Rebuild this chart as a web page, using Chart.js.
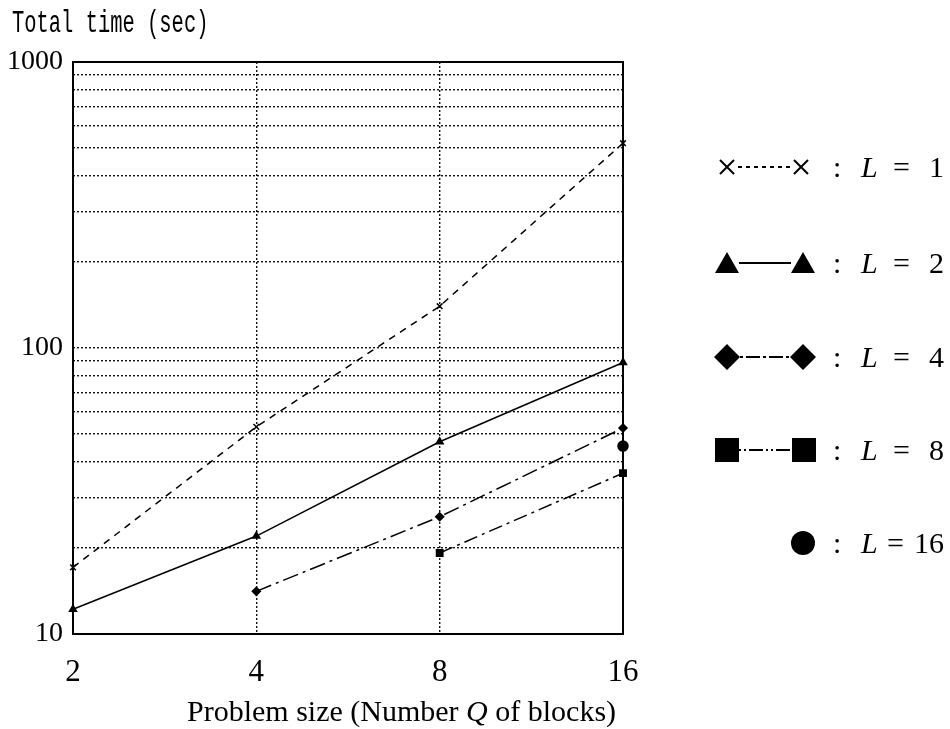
<!DOCTYPE html>
<html>
<head>
<meta charset="utf-8">
<script src="https://cdn.jsdelivr.net/npm/chart.js@4.4.1/dist/chart.umd.min.js"></script>
<style>
  html, body { margin: 0; padding: 0; background: #fff; }
  #wrap { position: relative; width: 950px; height: 729px; font-family: "Liberation Serif", serif; color: #000; overflow: hidden; }
  #chart { position: absolute; left: 0; top: 0; }
  .ytitle { position: absolute; left: 12px; top: 6px; font-family: "Liberation Mono", monospace; font-size: 31px; white-space: pre; transform: scaleX(0.66); transform-origin: left top; }
  .xtitle { position: absolute; left: 187px; top: 694px; font-size: 30px; white-space: pre; }
  .row { position: absolute; left: 0; width: 950px; height: 40px; }
  .row svg { position: absolute; left: 710px; top: 5px; }
  .row span { position: absolute; top: 2px; font-size: 30px; line-height: 36px; }
  .colon { left: 833px; }
  .ell { left: 861px; font-style: italic; }
  .eq { left: 893px; }
  .num { right: 6px; }
</style>
</head>
<body>
<div id="wrap">
  <canvas id="chart" width="950" height="729"></canvas>
  <div class="ytitle">Total time (sec)</div>
  <div class="xtitle">Problem size (Number <i>Q</i> of blocks)</div>

  <div class="row" style="top:147px">
    <svg width="110" height="30"><path d="M10 8 L24 22 M24 8 L10 22 M84 8 L98 22 M98 8 L84 22" stroke="#000" stroke-width="2"/><line x1="28" y1="15" x2="80" y2="15" stroke="#000" stroke-width="2" stroke-dasharray="4 4"/></svg>
    <span class="colon">:</span><span class="ell">L</span><span class="eq">=</span><span class="num">1</span>
  </div>
  <div class="row" style="top:243px">
    <svg width="110" height="30"><path d="M17 4 L29 25 L5 25 Z M93 4 L105 25 L81 25 Z" fill="#000"/><line x1="29" y1="15" x2="81" y2="15" stroke="#000" stroke-width="2"/></svg>
    <span class="colon">:</span><span class="ell">L</span><span class="eq">=</span><span class="num">2</span>
  </div>
  <div class="row" style="top:337px">
    <svg width="110" height="30"><path d="M17 2 L30 15 L17 28 L4 15 Z M93 2 L106 15 L93 28 L80 15 Z" fill="#000"/><line x1="30" y1="15" x2="80" y2="15" stroke="#000" stroke-width="2" stroke-dasharray="3 3 14 3"/></svg>
    <span class="colon">:</span><span class="ell">L</span><span class="eq">=</span><span class="num">4</span>
  </div>
  <div class="row" style="top:430px">
    <svg width="110" height="30"><path d="M5 3 H29 V27 H5 Z M82 3 H106 V27 H82 Z" fill="#000"/><line x1="29" y1="15" x2="82" y2="15" stroke="#000" stroke-width="2" stroke-dasharray="2 3 2 3 14 3"/></svg>
    <span class="colon">:</span><span class="ell">L</span><span class="eq">=</span><span class="num">8</span>
  </div>
  <div class="row" style="top:523px">
    <svg width="110" height="30"><circle cx="93" cy="15" r="12" fill="#000"/></svg>
    <span class="colon">:</span><span class="ell">L</span><span class="eq" style="left:887px">=</span><span class="num">16</span>
  </div>
</div>
<script>
const FONT = '"Liberation Serif", serif';

// problem sizes Q (x axis) and total times in seconds for each L
const qSizes = ['2', '4', '8', '16'];
const timeL1 = [17.1, 53, 140, 520];
const timeL2 = [12.2, 22, 47, 89];
const timeL4 = [null, 14.1, 25.7, 52.5];
const timeL8 = [null, null, 19.2, 36.5];
const timeL16 = [null, null, null, 45.4];

const yGridValues = [10, 20, 30, 40, 50, 60, 70, 80, 90, 100, 200, 300, 400, 500, 600, 700, 800, 900, 1000];
const yLabeled = [10, 100, 1000];

const framePlugin = {
  id: 'frame',
  beforeDatasetsDraw(chart) {
    const { ctx, chartArea: a } = chart;
    ctx.save();
    ctx.setLineDash([]);
    ctx.lineWidth = 2;
    ctx.strokeStyle = '#000';
    ctx.strokeRect(a.left, a.top, a.right - a.left, a.bottom - a.top);
    ctx.restore();
  }
};

function series(data, dash, style, radius) {
  return {
    data: data,
    borderColor: '#000',
    backgroundColor: '#000',
    borderWidth: 1.5,
    borderDash: dash,
    pointStyle: style,
    pointRadius: radius,
    pointBorderWidth: 1.5,
    pointBorderColor: '#000',
    pointBackgroundColor: '#000',
    fill: false,
    tension: 0,
    clip: false
  };
}

new Chart(document.getElementById('chart'), {
  type: 'line',
  data: {
    labels: qSizes,
    datasets: [
      series(timeL1, [7, 6], 'crossRot', 4),
      series(timeL2, [], 'triangle', 4),
      series(timeL4, [16, 5, 3, 5], 'rectRot', 4),
      series(timeL8, [14, 5, 3, 5], 'rect', 4.5),
      series(timeL16, [], 'circle', 5)
    ]
  },
  options: {
    responsive: false,
    animation: false,
    layout: { padding: { left: 0, top: 62, right: 327, bottom: 0 } },
    plugins: { legend: { display: false }, tooltip: { enabled: false } },
    scales: {
      x: {
        type: 'category',
        offset: false,
        grid: {
          color: c => (c.index === 1 || c.index === 2) ? '#111' : 'rgba(0,0,0,0)',
          lineWidth: 1.4,
          drawTicks: false
        },
        border: { display: false, dash: [2, 2] },
        ticks: { font: { family: FONT, size: 31 }, color: '#000', padding: 20, maxRotation: 0 },
        afterFit: s => { s.height = 95; }
      },
      y: {
        type: 'logarithmic',
        min: 10,
        max: 1000,
        afterBuildTicks: s => { s.ticks = yGridValues.map(v => ({ value: v })); },
        grid: {
          color: c => (c.tick && (c.tick.value === 10 || c.tick.value === 1000)) ? 'rgba(0,0,0,0)' : '#111',
          lineWidth: 1.4,
          drawTicks: false
        },
        border: { display: false, dash: [2, 2] },
        ticks: {
          autoSkip: false,
          font: { family: FONT, size: 28 },
          color: '#000',
          padding: 10,
          callback: v => yLabeled.includes(v) ? String(v) : ''
        },
        afterFit: s => { s.width = 73; }
      }
    }
  },
  plugins: [framePlugin]
});
</script>
</body>
</html>
